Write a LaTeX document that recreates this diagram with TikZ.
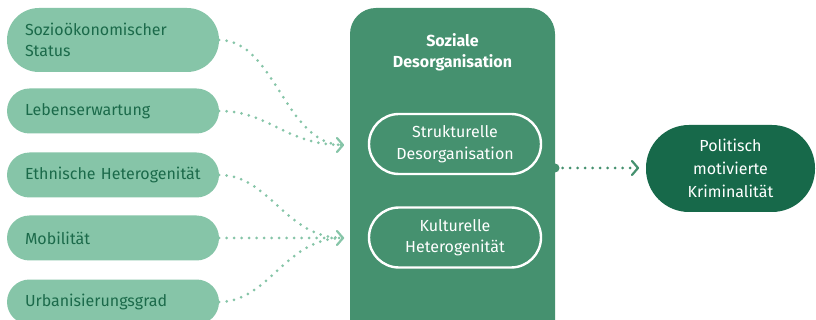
\documentclass[tikz,border=0pt]{standalone}
\usepackage{fontspec}
\setmainfont{Fira Sans}
\usetikzlibrary{arrows.meta}
\definecolor{lightg}{HTML}{86C5A8}
\definecolor{textg}{HTML}{1B6A4A}
\definecolor{boxg}{HTML}{45916F}
\definecolor{darkg}{HTML}{17694A}
\tikzset{
  pill/.style={rectangle, fill=lightg, text=textg, minimum width=212pt,
    text width=176pt, inner xsep=18pt, inner ysep=0pt, align=left, font=\fontsize{16}{21}\selectfont},
  innerpill/.style={rectangle, rounded corners=30pt, draw=white, line width=2.4pt, fill=boxg, text=white,
    minimum width=172pt, minimum height=60pt, align=center, font=\fontsize{16}{21.5}\selectfont},
  dotline/.style={line width=3pt, line cap=round, dash pattern=on 0pt off 7.5pt},
  chev/.style={line width=2.2pt, line cap=round, line join=round}
}
\begin{document}
\begin{tikzpicture}[x=1pt,y=-1pt]
\clip (0,0) rectangle (816,320);
\fill[white] (0,0) rectangle (816,320);
% left pills
\node[pill, minimum height=64pt, rounded corners=32pt] (p1) at (113,40) {Sozioökonomischer\\Status};
\node[pill, minimum height=45pt, rounded corners=22.5pt] (p2) at (113,111) {Lebenserwartung};
\node[pill, minimum height=45pt, rounded corners=22.5pt] (p3) at (113,175) {Ethnische Heterogenität};
\node[pill, minimum height=45pt, rounded corners=22.5pt] (p4) at (113,238) {Mobilität};
\node[pill, minimum height=45pt, rounded corners=22.5pt] (p5) at (113,302) {Urbanisierungsgrad};
% big box
\node[fill=boxg, rounded corners=26pt, minimum width=205pt, minimum height=345pt, inner sep=0pt] (box) at (452.5,180.5) {};
\node[text=white, align=center, font=\fontsize{16}{21}\selectfont\bfseries] (title) at (452.5,52) {Soziale\\Desorganisation};
\node[innerpill] (s1) at (455,144) {Strukturelle\\Desorganisation};
\node[innerpill] (s2) at (455,237.5) {Kulturelle\\Heterogenität};
% right pill
\node[rectangle, rounded corners=43pt, fill=darkg, text=white, minimum width=169pt, minimum height=87pt,
  align=center, inner sep=0pt, font=\fontsize{16}{23}\selectfont] (pmk) at (730.5,168.5) {Politisch\\motivierte\\Kriminalität};
% arrow end points
\coordinate (a1) at (343,145);
\coordinate (a2) at (343,238);
\coordinate (a3) at (638,168);
\coordinate (b0) at (555,168);
% connectors
\draw[lightg, dotline] (p1.east) .. controls (275,40) and (285,145) .. (a1);
\draw[lightg, dotline] (p2.east) .. controls (270,111) and (285,145) .. (a1);
\draw[lightg, dotline] (p3.east) .. controls (270,175) and (285,238) .. (a2);
\draw[lightg, dotline] (p4.east) -- (a2);
\draw[lightg, dotline] (p5.east) .. controls (270,301) and (285,238) .. (a2);
\draw[lightg, chev] ([shift={(-6,-7)}]a1) -- (a1) -- ([shift={(-6,7)}]a1);
\draw[lightg, chev] ([shift={(-6,-7)}]a2) -- (a2) -- ([shift={(-6,7)}]a2);
\fill[boxg] (b0) circle (4.5pt);
\draw[boxg, dotline] (b0) -- (a3);
\draw[boxg, chev] ([shift={(-6,-7)}]a3) -- (a3) -- ([shift={(-6,7)}]a3);
\end{tikzpicture}
\end{document}
